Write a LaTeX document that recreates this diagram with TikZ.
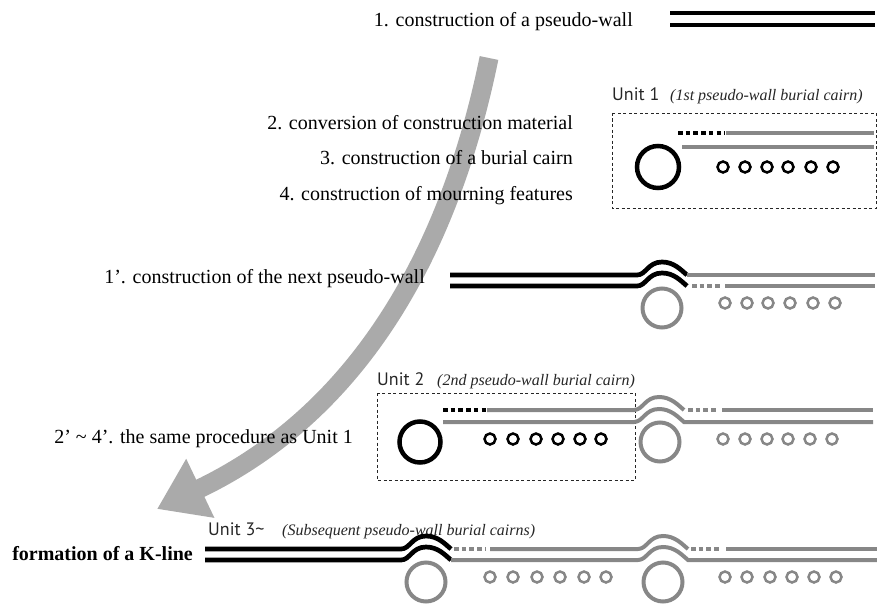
\documentclass[tikz,border=0pt]{standalone}
\usepackage{fontspec}
\setmainfont{Liberation Serif}
\newfontfamily\unitfont{PT Sans}
\usetikzlibrary{arrows.meta}
\definecolor{lgray}{RGB}{135,135,135}
\definecolor{agray}{RGB}{170,170,170}
\newcommand{\hump}[2]{.. controls ({#1-16},{#2}) and ({#1-14},{#2-13}) .. ({#1},{#2-13}) .. controls ({#1+12},{#2-13}) and ({#1+19},{#2-5}) .. ({#1+25},{#2})}
\begin{document}
\begin{tikzpicture}[x=1pt,y={(0pt,-1pt)},
  blk/.style={line width=4.7pt, black},
  gry/.style={line width=4pt, lgray},
  dotb/.style={line width=4.7pt, black, dash pattern=on 4.5pt off 3.2pt},
  dotg/.style={line width=4pt, lgray, dash pattern=on 4.5pt off 3.2pt},
  bigb/.style={line width=4.5pt, black},
  bigg/.style={line width=4pt, lgray},
  smb/.style={line width=2.5pt, black},
  smg/.style={line width=2.5pt, lgray},
  unitbox/.style={draw=black!85, line width=0.9pt, dash pattern=on 3pt off 2.5pt},
  lbl/.style={font=\fontsize{20}{24}\selectfont, inner sep=0pt},
  ulbl/.style={font=\unitfont\fontsize{18}{20}\selectfont, inner sep=0pt, text=black!85},
  ilbl/.style={font=\fontsize{16}{18}\selectfont\itshape, inner sep=0pt, text=black!85}]
\useasboundingbox (0,0) rectangle (877,607);

% big curved arrow (behind text)
\coordinate (astart) at (489,58);
\coordinate (atip) at (157,509);
\draw[line width=19pt, agray, -{Triangle[length=48pt,width=62pt]}] (astart) .. controls (449,254) and (358,413) .. (atip);

% texts
\node[lbl, anchor=base east] (t1) at (633,27) {1. construction of a pseudo-wall};
\node[lbl, anchor=base east] (t2) at (573,129) {2. conversion of construction material};
\node[lbl, anchor=base east] (t3) at (573,164) {3. construction of a burial cairn};
\node[lbl, anchor=base east] (t4) at (573,200) {4. construction of mourning features};
\node[lbl, anchor=base east] (t1p) at (425,283) {1’. construction of the next pseudo-wall};
\node[lbl, anchor=base east] (t2p) at (353,443) {2’ \textasciitilde{} 4’. the same procedure as Unit 1};
\node[lbl, anchor=base east, font=\fontsize{20}{24}\selectfont\bfseries] (tk) at (193,560) {formation of a K-line};

% row 1: pseudo-wall
\draw[blk] (670,13) -- (875,13);
\draw[blk] (670,25) -- (875,25);

% Unit 1
\node[ulbl, anchor=base west] (u1) at (612,100) {Unit 1};
\node[ilbl, anchor=base west] (u1i) at (670,101) {(1st pseudo-wall burial cairn)};
\draw[unitbox] (612,113) rectangle (876,208);
\draw[dotb] (678,133) -- (725,133);
\draw[gry] (726,133) -- (874,133);
\draw[gry] (682,147) -- (874,147);
\draw[bigb] (658,167) circle[radius=21pt];
\foreach \x in {723,745,767,788,811,833} \draw[smb] (\x,167) circle[radius=5.5pt];

% row 1'
\draw[blk] (450,275) -- (637,275) \hump{662}{275};
\draw[blk] (450,286) -- (637,286) \hump{662}{286};
\draw[gry] (687,275) -- (875,275);
\draw[dotg] (692,286) -- (722,286);
\draw[gry] (725,286) -- (875,286);
\draw[bigg] (662,308) circle[radius=19.5pt];
\foreach \x in {725,747,768,790,813,835} \draw[smg] (\x,303) circle[radius=5.5pt];

% Unit 2
\node[ulbl, anchor=base west] (u2) at (377,385) {Unit 2};
\node[ilbl, anchor=base west] (u2i) at (437,385) {(2nd pseudo-wall burial cairn)};
\draw[unitbox] (377,393) rectangle (635,480);
\draw[dotb] (443,410) -- (487,410);
\draw[gry] (487,410) -- (634,410) \hump{659}{410};
\draw[dotg] (688,410) -- (718,410);
\draw[gry] (722,410) -- (873,410);
\draw[gry] (443,422) -- (634,422) \hump{659}{422} -- (873,422);
\draw[bigb] (420,442) circle[radius=20.5pt];
\foreach \x in {490,513,536,558,580,601} \draw[smb] (\x,439) circle[radius=5.5pt];
\draw[bigg] (660,442) circle[radius=19.5pt];
\foreach \x in {723,745,767,788,810,832} \draw[smg] (\x,439) circle[radius=5.5pt];

% Unit 3
\node[ulbl, anchor=base west] (u3) at (208,535) {Unit 3\textasciitilde};
\node[ilbl, anchor=base west] (u3i) at (282,535) {(Subsequent pseudo-wall burial cairns)};
\draw[blk] (205,549) -- (401,549) \hump{426}{549};
\draw[blk] (205,560) -- (401,560) \hump{426}{560};
\draw[dotg] (454,549) -- (486,549);
\draw[gry] (490,549) -- (638,549) \hump{663}{549};
\draw[gry] (451,560) -- (638,560) \hump{663}{560} -- (877,560);
\draw[dotg] (691,549) -- (721,549);
\draw[gry] (726,549) -- (877,549);
\draw[bigg] (426,582) circle[radius=19.5pt];
\draw[bigg] (663,582) circle[radius=19.5pt];
\foreach \x in {490,513,537,560,584,606} \draw[smg] (\x,577) circle[radius=5.5pt];
\foreach \x in {725,747,770,792,814,836} \draw[smg] (\x,577) circle[radius=5.5pt];
\end{tikzpicture}
\end{document}
